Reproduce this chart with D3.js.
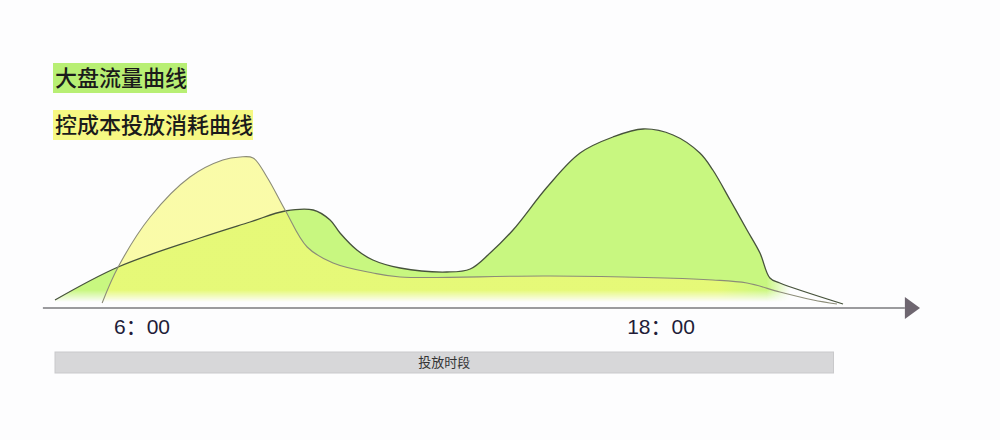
<!DOCTYPE html>
<html>
<head>
<meta charset="utf-8">
<script src="https://cdn.jsdelivr.net/npm/d3@7"></script>
<style>
  html, body { margin: 0; padding: 0; background: #fdfdfe; }
  svg { display: block; }
</style>
</head>
<body>
<svg id="chart" width="1000" height="440"></svg>
<script>
// ---- data (hours of day, relative level) ----
const legendLabels = ["大盘流量曲线", "控成本投放消耗曲线"];
const tickHours = [6, 18];
const bandLabel = "投放时段";
const bandRange = [4, 22];

const trafficHours  = [4.00, 5.46, 7.35, 8.51, 9.32, 9.97, 10.36, 10.59, 10.98, 11.35, 11.98, 13.06, 13.60, 14.06, 14.59, 15.38, 16.14, 16.90, 17.60, 18.29, 18.91, 19.21, 19.61, 20.00, 20.30, 20.53, 20.76, 22.22];
const trafficValues = [4,    37,   66,   82,   93,   94,   84,    71,    54,    44,    36,    32,    35,    51,    74,    117,   151,   167,   175,   169,   151,   134,   104,   74,    51,    26,    21,    0];

const costHours  = [5.09, 5.46, 6.20, 7.12, 7.88, 8.28, 8.58, 8.90, 9.32, 9.83, 10.43, 11.35, 11.98, 15.45, 19.21, 20.00, 20.76, 21.53, 22.08];
const costValues = [1,    37,   87,   127,  144,  147,  146,  127,  94,   57,   41,    31,    27,    28,    24,    21,    12,    4,     0];

// ---- layout ----
const svg = d3.select("#chart");
const x = d3.scaleLinear().domain([4, 22]).range([55, 833.5]);
const y = d3.scaleLinear().domain([0, 180]).range([304, 124]);
const axisY = 308;

const defs = svg.append("defs");
function hGrad(id, color, opacity, fadeStartH, fadeEndH) {
  const g = defs.append("linearGradient").attr("id", id)
    .attr("gradientUnits", "userSpaceOnUse")
    .attr("x1", x(fadeStartH)).attr("x2", x(fadeEndH)).attr("y1", 0).attr("y2", 0);
  g.append("stop").attr("offset", 0).attr("stop-color", color).attr("stop-opacity", opacity);
  g.append("stop").attr("offset", 1).attr("stop-color", color).attr("stop-opacity", 0);
}
hGrad("gGreen", "#c8f780", 1, 20.45, 21.0);
hGrad("gYellow", "#f8fa73", 0.62, 19.3, 20.6);

// bottom fade mask
const mg = defs.append("linearGradient").attr("id", "fadeV")
  .attr("gradientUnits", "userSpaceOnUse")
  .attr("x1", 0).attr("x2", 0).attr("y1", y(14)).attr("y2", y(2));
mg.append("stop").attr("offset", 0).attr("stop-color", "#fff").attr("stop-opacity", 1);
mg.append("stop").attr("offset", 1).attr("stop-color", "#fff").attr("stop-opacity", 0);
const mask = defs.append("mask").attr("id", "bottomFade")
  .attr("maskUnits", "userSpaceOnUse").attr("x", 0).attr("y", 0).attr("width", 1000).attr("height", 440);
mask.append("rect").attr("x", 0).attr("y", 0).attr("width", 1000).attr("height", 440).attr("fill", "url(#fadeV)");

const traffic = trafficHours.map((h, i) => ({h, v: trafficValues[i]}));
const cost = costHours.map((h, i) => ({h, v: costValues[i]}));

const curve = d3.curveCatmullRom.alpha(0.5);
const area = d3.area().x(d => x(d.h)).y0(y(0)).y1(d => y(d.v)).curve(curve);
const line = d3.line().x(d => x(d.h)).y(d => y(d.v)).curve(curve);

const fills = svg.append("g").attr("mask", "url(#bottomFade)");
fills.append("path").datum(traffic).attr("d", area).attr("fill", "url(#gGreen)");
fills.append("path").datum(cost).attr("d", area).attr("fill", "url(#gYellow)");

svg.append("path").datum(traffic).attr("d", line)
  .attr("fill", "none").attr("stroke", "#47533c").attr("stroke-width", 1.3);
svg.append("path").datum(cost).attr("d", line)
  .attr("fill", "none").attr("stroke", "#8c8c78").attr("stroke-width", 1.1);

// ---- axis ----
svg.append("line")
  .attr("x1", x(3.72)).attr("x2", x(23.65)).attr("y1", axisY).attr("y2", axisY)
  .attr("stroke", "#7a7a7e").attr("stroke-width", 1.6);
const ax0 = x(23.65), ax1 = x(24.0);
svg.append("path")
  .attr("d", `M${ax0},${axisY - 11} L${ax1},${axisY} L${ax0},${axisY + 11} Z`)
  .attr("fill", "#6e6670");

const axis = d3.axisBottom(x).tickValues(tickHours).tickSize(0).tickPadding(11)
  .tickFormat(h => h + "：00");
const axG = svg.append("g").attr("transform", `translate(0,${axisY})`).call(axis);
axG.select(".domain").remove();
axG.selectAll("text")
  .attr("font-family", "'Liberation Sans', 'Noto Sans CJK SC', sans-serif")
  .attr("font-size", 21).attr("fill", "#221c38");

// ---- band ----
svg.append("rect")
  .attr("x", x(bandRange[0])).attr("width", x(bandRange[1]) - x(bandRange[0]))
  .attr("y", 352).attr("height", 21)
  .attr("fill", "#d7d7d9").attr("stroke", "#c9c9cb").attr("stroke-width", 1);
svg.append("text")
  .attr("x", (x(bandRange[0]) + x(bandRange[1])) / 2).attr("y", 367)
  .attr("text-anchor", "middle")
  .attr("font-family", "'Noto Sans CJK SC', sans-serif")
  .attr("font-size", 13).attr("fill", "#333")
  .text(bandLabel);

// ---- legend ----
const legendColors = ["#b8ef74", "#f6f883"];
const legendY = [86, 133];
legendLabels.forEach((t, i) => {
  const g = svg.append("g");
  const r = g.append("rect");
  const tx = g.append("text")
    .attr("x", 55).attr("y", legendY[i])
    .attr("font-family", "'Noto Sans CJK SC', sans-serif")
    .attr("font-size", 22).attr("font-weight", 500).attr("fill", "#1b1b1b")
    .text(t);
  const w = tx.node().getComputedTextLength();
  r.attr("x", 53).attr("y", legendY[i] - 23).attr("width", w + 2).attr("height", 30)
    .attr("fill", legendColors[i]);
});
</script>
</body>
</html>
